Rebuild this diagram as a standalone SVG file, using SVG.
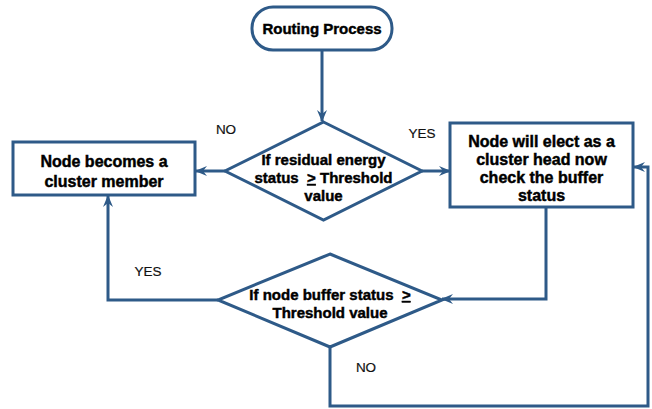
<svg xmlns="http://www.w3.org/2000/svg" width="652" height="409" viewBox="0 0 652 409">
<defs>
<style>
.shape{fill:#fff;stroke:#2e5a88;stroke-width:3}
.conn{fill:none;stroke:#2e5a88;stroke-width:3;marker-end:url(#arr)}
.t{font-family:"Liberation Sans",Arial,sans-serif;font-weight:bold;font-size:15px;fill:#000;text-anchor:middle;stroke:#000;stroke-width:0.45}
.tb{font-size:16px}
.lbl{font-family:"Liberation Sans",Arial,sans-serif;font-size:13.5px;fill:#111;text-anchor:middle;stroke:#111;stroke-width:0.2}
</style>
<marker id="arr" viewBox="0 0 12 12" refX="11" refY="6" markerWidth="12" markerHeight="12" markerUnits="userSpaceOnUse" orient="auto">
<path d="M0,1 L12,6 L0,11 L4,6 z" fill="#2e5a88"/>
</marker>
</defs>
<rect width="652" height="409" fill="#fff"/>
<g id="connectors">
<path class="conn" d="M322,50 V121"/>
<path class="conn" d="M225,171 H196"/>
<path class="conn" d="M422,171 H450"/>
<path class="conn" d="M546,207 V299 H442"/>
<path class="conn" d="M218,300 H108 V196"/>
<path class="conn" d="M330,347 V406 H648 V167 H634"/>
</g>
<g id="start">
<rect class="shape" x="252" y="7" width="140" height="43" rx="21" ry="21"/>
<text class="t" x="322" y="34">Routing Process</text>
</g>
<g id="decision1">
<polygon class="shape" points="323.5,122 422,171 323.5,220 225,171"/>
<text class="t" x="323.5" y="165">If residual energy</text>
<text class="t" x="323.5" y="183" xml:space="preserve">status  <tspan text-decoration="underline">&gt;</tspan> Threshold</text>
<text class="t" x="323.5" y="201">value</text>
</g>
<g id="member">
<rect class="shape" x="13" y="142" width="182" height="53"/>
<text class="t tb" x="104" y="167">Node becomes a</text>
<text class="t tb" x="104" y="187">cluster member</text>
</g>
<g id="head">
<rect class="shape" x="450" y="123" width="183" height="84"/>
<text class="t tb" x="541.5" y="147">Node will elect as a</text>
<text class="t tb" x="541.5" y="165">cluster head now</text>
<text class="t tb" x="541.5" y="183">check the buffer</text>
<text class="t tb" x="541.5" y="201">status</text>
</g>
<g id="decision2">
<polygon class="shape" points="330,254 442,300 330,347 218,300"/>
<text class="t" x="330" y="300" xml:space="preserve">If node buffer status  <tspan text-decoration="underline">&gt;</tspan></text>
<text class="t" x="330" y="318">Threshold value</text>
</g>
<g id="labels">
<text class="lbl" x="226" y="134">NO</text>
<text class="lbl" x="422" y="138">YES</text>
<text class="lbl" x="148" y="276">YES</text>
<text class="lbl" x="366" y="372">NO</text>
</g>
</svg>
